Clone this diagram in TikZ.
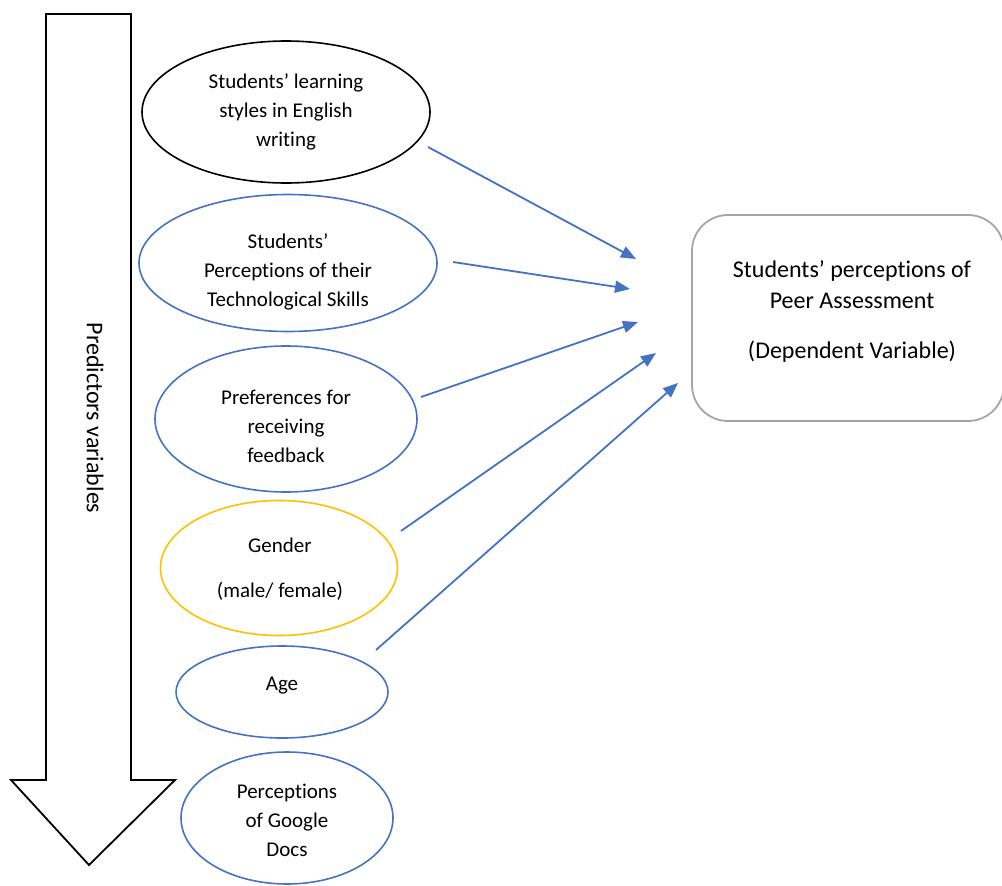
\documentclass[tikz,border=0pt]{standalone}
\usepackage{fontspec}
\setmainfont{Carlito}[Ligatures={NoCommon,NoContextual,NoRare},Contextuals=NoAlternate]
\usetikzlibrary{shapes.geometric,arrows.meta}
\definecolor{ublue}{HTML}{4472C4}
\definecolor{uyellow}{HTML}{FFC000}
\definecolor{ugray}{HTML}{A5A5A5}
\newcommand{\ti}{t\kern0pt i}
\begin{document}
\begin{tikzpicture}[x=1pt,y=-1pt,
  ell/.style={ellipse,draw,line width=1.6pt,inner sep=0pt},
  txt/.style={align=center,font=\fontsize{21}{29}\selectfont,inner sep=0pt},
  conn/.style={draw=ublue,line width=1.8pt,-{Triangle[length=15pt,width=12pt]},fill=ublue}]
\useasboundingbox (0,0) rectangle (1002,886);
% big arrow
\draw[line width=1.8pt,line join=miter] (46,14) -- (131,14) -- (131,780) -- (175,780) -- (89,865) -- (11,780) -- (46,780) -- cycle;
\node[rotate=-90,font=\fontsize{24}{29}\selectfont,inner sep=0pt] (pv) at (95,418) {Predictors variables};
% ellipses
\node[ell,draw=black,minimum width=288pt,minimum height=142pt] (e1) at (286,112) {};
\node[ell,draw=ublue,minimum width=298pt,minimum height=137pt] (e2) at (288,263) {};
\node[ell,draw=ublue,minimum width=262pt,minimum height=146pt] (e3) at (286,419) {};
\node[ell,draw=uyellow,minimum width=237pt,minimum height=135pt] (e4) at (279,568) {};
\node[ell,draw=ublue,minimum width=212pt,minimum height=92pt] (e5) at (282,692) {};
\node[ell,draw=ublue,minimum width=212pt,minimum height=132pt] (e6) at (287,818) {};
\node[txt] (t1) at (286,112) {Students’ learning\\styles in English\\wri\ti ng};
\node[txt] (t2) at (288,272) {Students’\\Percep\ti ons of their\\Technological Skills};
\node[txt] (t3) at (286,426) {Preferences for\\receiving\\feedback};
\node[txt] (t4) at (280,569) {Gender\\[16pt](male/ female)};
\node[txt] (t5) at (282,686) {Age};
\node[txt] (t6) at (287,820) {Percep\ti ons\\of Google\\Docs};
% dependent box
\draw[draw=ugray,line width=1.8pt,rounded corners=36pt] (692,215) rectangle (1004,421);
\node[align=center,font=\fontsize{24}{31}\selectfont,inner sep=0pt] (dv) at (852,311) {Students’ percep\ti ons of\\Peer Assessment\\[19pt](Dependent Variable)};
% arrows
\coordinate (s1) at (428,147); \coordinate (d1) at (636,259);
\coordinate (s2) at (453,262); \coordinate (d2) at (630,289);
\coordinate (s3) at (421,397); \coordinate (d3) at (638,322);
\coordinate (s4) at (401,531); \coordinate (d4) at (656,353);
\coordinate (s5) at (376,650); \coordinate (d5) at (678,383);
\draw[conn] (s1) -- (d1);
\draw[conn] (s2) -- (d2);
\draw[conn] (s3) -- (d3);
\draw[conn] (s4) -- (d4);
\draw[conn] (s5) -- (d5);
\end{tikzpicture}
\end{document}
